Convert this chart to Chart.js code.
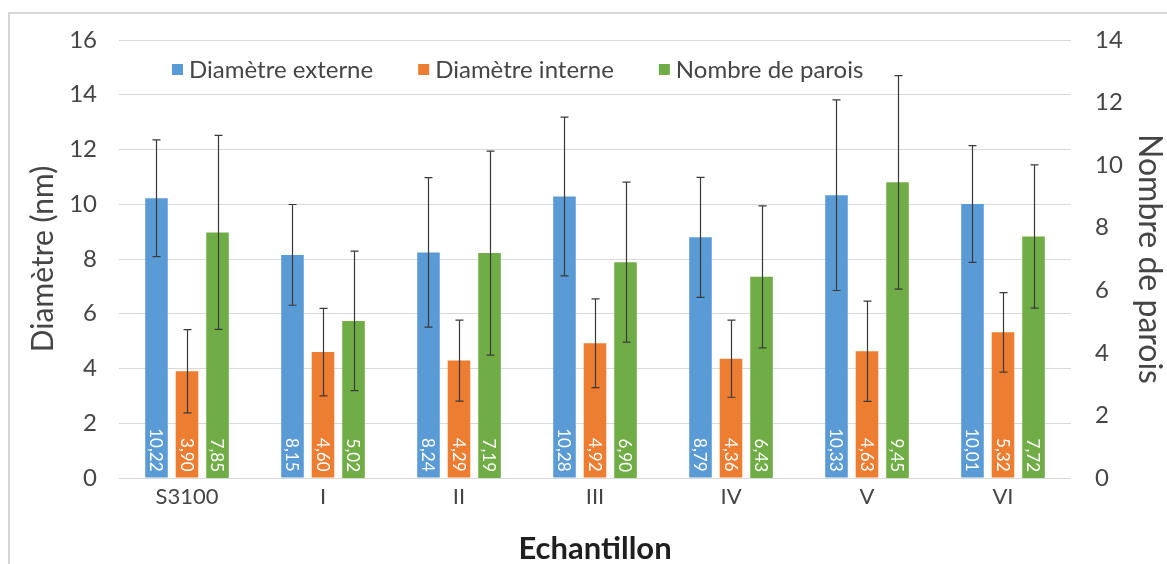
<!DOCTYPE html>
<html>
<head>
<meta charset="utf-8">
<script src="https://cdn.jsdelivr.net/npm/chart.js@4/dist/chart.umd.min.js"></script>
<style>
  html, body { margin: 0; padding: 0; background: #fff; }
  #wrap { width: 1167px; height: 564px; position: relative; }
</style>
</head>
<body>
<div id="wrap"><canvas id="c" width="1167" height="564"></canvas></div>
<script>
// ---- Data ----
const categories = ['S3100', 'I', 'II', 'III', 'IV', 'V', 'VI'];
const seriesNames = ['Diamètre externe', 'Diamètre interne', 'Nombre de parois'];
const extDiam = [10.22, 8.15, 8.24, 10.28, 8.79, 10.33, 10.01];
const intDiam = [3.90, 4.60, 4.29, 4.92, 4.36, 4.63, 5.32];
const walls   = [7.85, 5.02, 7.19, 6.90, 6.43, 9.45, 7.72];
const extErr  = [2.13, 1.84, 2.73, 2.90, 2.19, 3.48, 2.13];
const intErr  = [1.52, 1.60, 1.48, 1.62, 1.41, 1.83, 1.45];
const wallErr = [3.10, 2.23, 3.26, 2.56, 2.27, 3.41, 2.29];
const leftTicks = [0, 2, 4, 6, 8, 10, 12, 14, 16];
const rightTicks = [0, 2, 4, 6, 8, 10, 12, 14];
const leftTitle = 'Diamètre (nm)';
const rightTitle = 'Nombre de parois';
const xTitle = 'Echantillon';

const colors = ['#5B9BD5', '#ED7D31', '#70AD47'];
const FONT = 'Lato';

function fmt(v) { return v.toFixed(2).replace('.', ','); }

const framePlugin = {
  id: 'frame',
  beforeDraw(chart) {
    const ctx = chart.ctx;
    ctx.save();
    ctx.fillStyle = '#fff';
    ctx.fillRect(0, 0, chart.width, chart.height);
    ctx.strokeStyle = '#d6d6d6';
    ctx.lineWidth = 2;
    ctx.strokeRect(9, 13, chart.width + 20, chart.height + 20);
    ctx.restore();
  }
};

const barExtras = {
  id: 'barExtras',
  afterDatasetsDraw(chart) {
    const ctx = chart.ctx;
    // value labels
    chart.data.datasets.forEach((ds, di) => {
      const meta = chart.getDatasetMeta(di);
      meta.data.forEach((bar, i) => {
        ctx.save();
        ctx.translate(bar.x, bar.base - 6);
        ctx.rotate(Math.PI / 2);
        ctx.textAlign = 'right';
        ctx.textBaseline = 'middle';
        ctx.fillStyle = '#ffffff';
        ctx.font = '17px ' + FONT;
        ctx.fillText(fmt(ds.data[i]), 0, 1);
        ctx.restore();
      });
    });
    // error bars
    chart.data.datasets.forEach((ds, di) => {
      const meta = chart.getDatasetMeta(di);
      const ys = chart.scales[ds.yAxisID];
      meta.data.forEach((bar, i) => {
        const v = ds.data[i], e = ds.errors[i];
        const yTop = ys.getPixelForValue(v + e);
        const yBot = ys.getPixelForValue(v - e);
        const x = Math.round(bar.x) + 0.5;
        ctx.save();
        ctx.strokeStyle = '#3a3a3a';
        ctx.lineWidth = 1.2;
        ctx.beginPath();
        ctx.moveTo(x, yTop); ctx.lineTo(x, yBot);
        ctx.moveTo(x - 4, yTop); ctx.lineTo(x + 4, yTop);
        ctx.moveTo(x - 4, yBot); ctx.lineTo(x + 4, yBot);
        ctx.stroke();
        ctx.restore();
      });
    });
  }
};

const legendPlugin = {
  id: 'customLegend',
  afterDraw(chart) {
    const ctx = chart.ctx;
    ctx.save();
    ctx.font = '24px ' + FONT;
    ctx.textBaseline = 'middle';
    ctx.textAlign = 'left';
    let x = 172;
    const y = 69;
    chart.data.datasets.forEach((ds) => {
      ctx.fillStyle = ds.backgroundColor;
      ctx.fillRect(x, y - 5, 11, 11);
      ctx.fillStyle = '#454545';
      ctx.fillText(ds.label, x + 17, y + 1);
      x += 17 + ctx.measureText(ds.label).width + 45;
    });
    ctx.restore();
  }
};

function build() {
  Chart.defaults.font.family = FONT;
  new Chart(document.getElementById('c'), {
    type: 'bar',
    data: {
      labels: categories,
      datasets: [
        { label: seriesNames[0], data: extDiam, errors: extErr, backgroundColor: colors[0], yAxisID: 'y' },
        { label: seriesNames[1], data: intDiam, errors: intErr, backgroundColor: colors[1], yAxisID: 'y' },
        { label: seriesNames[2], data: walls, errors: wallErr, backgroundColor: colors[2], yAxisID: 'y2' }
      ]
    },
    options: {
      responsive: false,
      animation: false,
      devicePixelRatio: 1,
      datasets: { bar: { categoryPercentage: 0.673, barPercentage: 0.74 } },
      layout: { padding: { top: 40, left: 0, right: 0, bottom: 0 } },
      plugins: { legend: { display: false }, tooltip: { enabled: false } },
      scales: {
        x: {
          grid: { display: false, drawTicks: false },
          border: { display: false },
          ticks: { color: '#454545', font: { size: 22 }, padding: 6, maxRotation: 0 },
          title: { display: true, text: xTitle, color: '#1f1f1f', font: { size: 31, weight: 'bold', lineHeight: 1 }, padding: { top: 0, bottom: 0 } },
          afterFit(s) { s.height = 86; }
        },
        y: {
          position: 'left',
          min: 0, max: 16,
          afterBuildTicks(s) { s.ticks = leftTicks.map(v => ({ value: v })); },
          grid: { color: '#d9d9d9', lineWidth: 1, drawTicks: false },
          border: { display: false },
          ticks: { color: '#454545', font: { size: 24 }, padding: 22 },
          title: { display: true, text: leftTitle, color: '#454545', font: { size: 30, lineHeight: 1 }, padding: { top: 28, bottom: 0 } },
          afterFit(s) { s.width = 119; }
        },
        y2: {
          position: 'right',
          min: 0, max: 14,
          afterBuildTicks(s) { s.ticks = rightTicks.map(v => ({ value: v })); },
          grid: { display: false, drawTicks: false },
          border: { display: false },
          ticks: { color: '#454545', font: { size: 24 }, padding: 24 },
          title: { display: true, text: rightTitle, color: '#454545', font: { size: 32, lineHeight: 1 }, padding: { top: 2, bottom: 0 } },
          afterFit(s) { s.width = 96; }
        }
      }
    },
    plugins: [framePlugin, barExtras, legendPlugin]
  });
}

if (document.fonts && document.fonts.load) {
  Promise.all([
    document.fonts.load('24px Lato'),
    document.fonts.load('bold 30px Lato')
  ]).then(build, build);
} else {
  build();
}
</script>
</body>
</html>
